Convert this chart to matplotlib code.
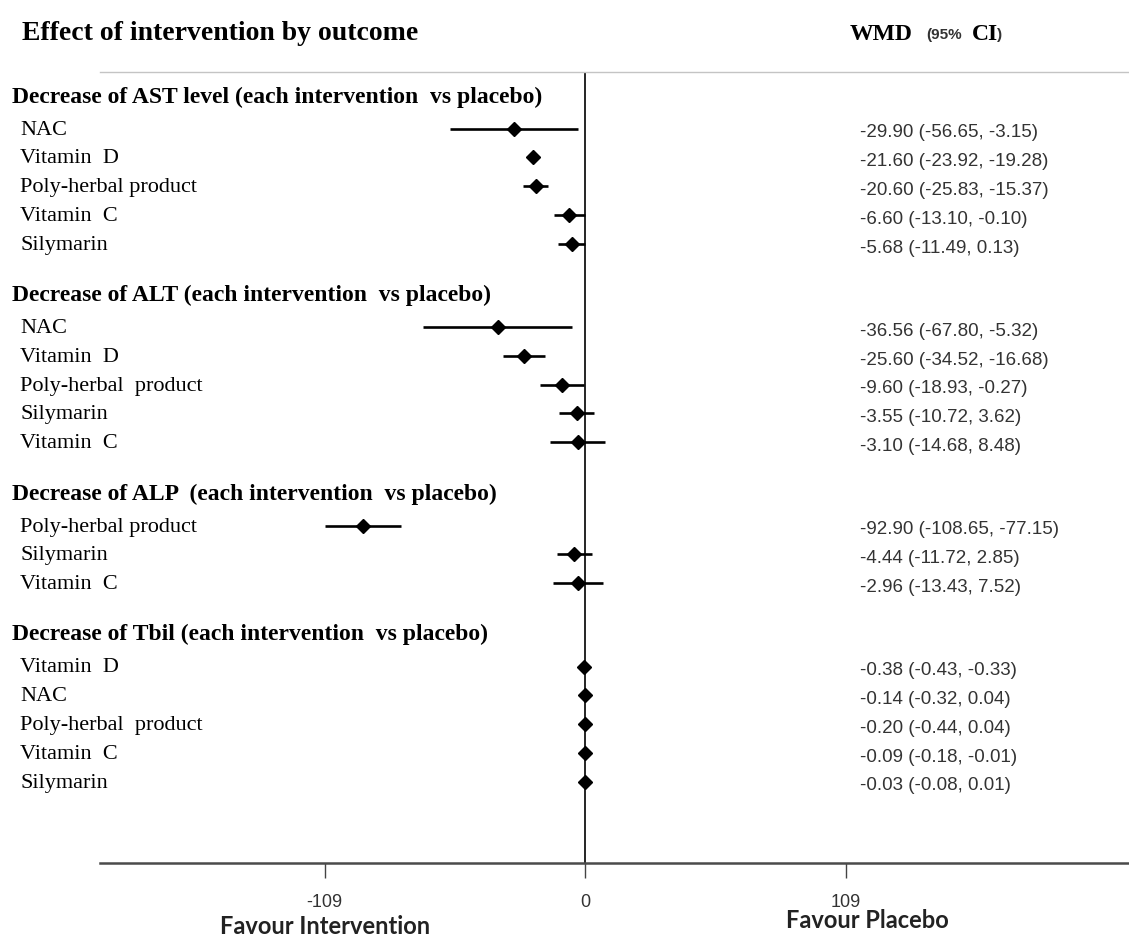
import numpy as np
import matplotlib
matplotlib.use('Agg')
import matplotlib.pyplot as plt
from matplotlib.transforms import blended_transform_factory

# data: weighted mean difference and 95% CI per outcome
sections = ['Decrease of AST level (each intervention  vs placebo)',
            'Decrease of ALT (each intervention  vs placebo)',
            'Decrease of ALP  (each intervention  vs placebo)',
            'Decrease of Tbil (each intervention  vs placebo)']

ast_names = ['NAC', 'Vitamin  D', 'Poly-herbal product', 'Vitamin  C', 'Silymarin']
ast_wmd = [-29.90, -21.60, -20.60, -6.60, -5.68]
ast_lo = [-56.65, -23.92, -25.83, -13.10, -11.49]
ast_hi = [-3.15, -19.28, -15.37, -0.10, 0.13]

alt_names = ['NAC', 'Vitamin  D', 'Poly-herbal  product', 'Silymarin', 'Vitamin  C']
alt_wmd = [-36.56, -25.60, -9.60, -3.55, -3.10]
alt_lo = [-67.80, -34.52, -18.93, -10.72, -14.68]
alt_hi = [-5.32, -16.68, -0.27, 3.62, 8.48]

alp_names = ['Poly-herbal product', 'Silymarin', 'Vitamin  C']
alp_wmd = [-92.90, -4.44, -2.96]
alp_lo = [-108.65, -11.72, -13.43]
alp_hi = [-77.15, 2.85, 7.52]

tbil_names = ['Vitamin  D', 'NAC', 'Poly-herbal  product', 'Vitamin  C', 'Silymarin']
tbil_wmd = [-0.38, -0.14, -0.20, -0.09, -0.03]
tbil_lo = [-0.43, -0.32, -0.44, -0.18, -0.08]
tbil_hi = [-0.33, 0.04, 0.04, -0.01, 0.01]

groups = [(ast_names, ast_wmd, ast_lo, ast_hi),
          (alt_names, alt_wmd, alt_lo, alt_hi),
          (alp_names, alp_wmd, alp_lo, alp_hi),
          (tbil_names, tbil_wmd, tbil_lo, tbil_hi)]

xticks = [-109, 0, 109]

serif = 'Liberation Serif'
sans = 'Liberation Sans'

W, H = 1129, 942
fig = plt.figure(figsize=(W / 100, H / 100), dpi=100)
ax = fig.add_axes([100 / W, (H - 863) / H, (W - 100) / W, (863 - 72) / H])

ax.set_xlim(-203, 227.6)
ax.set_ylim(27.5, 0)

tr = blended_transform_factory(fig.transFigure, ax.transData)

# layout rows: header, then items, gap before next header
y = 0.87
for title, (names, wmd, lo, hi) in zip(sections, groups):
    ax.text(12 / W, y, title, transform=tr, fontsize=17, fontweight='bold',
            family=serif, va='center', ha='left')
    ys = y + 1.1 + np.arange(len(names))
    ax.hlines(ys, lo, hi, colors='black', lw=1.9, zorder=3)
    ax.plot(wmd, ys, 'D', color='black', ms=7.5, zorder=4)
    for yi, n, w, l, h in zip(ys, names, wmd, lo, hi):
        ax.text(20 / W, yi + 0.05, n, transform=tr, fontsize=16,
                family=serif, va='center', ha='left')
        ax.text(860 / W, yi + 0.15, '%.2f (%.2f, %.2f)' % (w, l, h), transform=tr,
                fontsize=13.5, family=sans, color='#333333', va='center', ha='left')
    y = ys[-1] + 1.8

ax.axvline(0, color='black', lw=1.2, zorder=2)

for s in ['left', 'right']:
    ax.spines[s].set_visible(False)
ax.spines['top'].set_color('#c4c4c4')
ax.spines['top'].set_linewidth(1.0)
ax.spines['bottom'].set_color('#4a4a4a')
ax.spines['bottom'].set_linewidth(1.8)
ax.set_yticks([])
ax.set_xticks(xticks)
ax.set_xticklabels([str(t) for t in xticks])
ax.tick_params(axis='x', length=11, width=1, color='#444444', pad=11,
               labelsize=13, labelcolor='#333333')
for lab in ax.get_xticklabels():
    lab.set_family(sans)

fig.text(22 / W, 1 - 33 / H, 'Effect of intervention by outcome', fontsize=20,
         fontweight='bold', family=serif, va='center', ha='left')
fig.text(850 / W, 1 - 34 / H, 'WMD', fontsize=17, fontweight='bold',
         family=serif, va='center', ha='left')
fig.text(926 / W, 1 - 35 / H, '(95%', fontsize=11, fontweight='bold',
         family=sans, color='#333333', va='center', ha='left')
fig.text(972 / W, 1 - 34 / H, 'CI', fontsize=17, fontweight='bold',
         family=serif, va='center', ha='left')
fig.text(997 / W, 1 - 35 / H, ')', fontsize=11, fontweight='bold',
         family=sans, color='#333333', va='center', ha='left')

fig.text(325 / W, 1 - 927 / H, 'Favour Intervention', fontsize=17,
         fontweight='bold', family='Lato', color='#222222', va='center', ha='center')
fig.text(867 / W, 1 - 921 / H, 'Favour Placebo', fontsize=17,
         fontweight='bold', family='Lato', color='#222222', va='center', ha='center')

fig.savefig('out.png', dpi=100)
